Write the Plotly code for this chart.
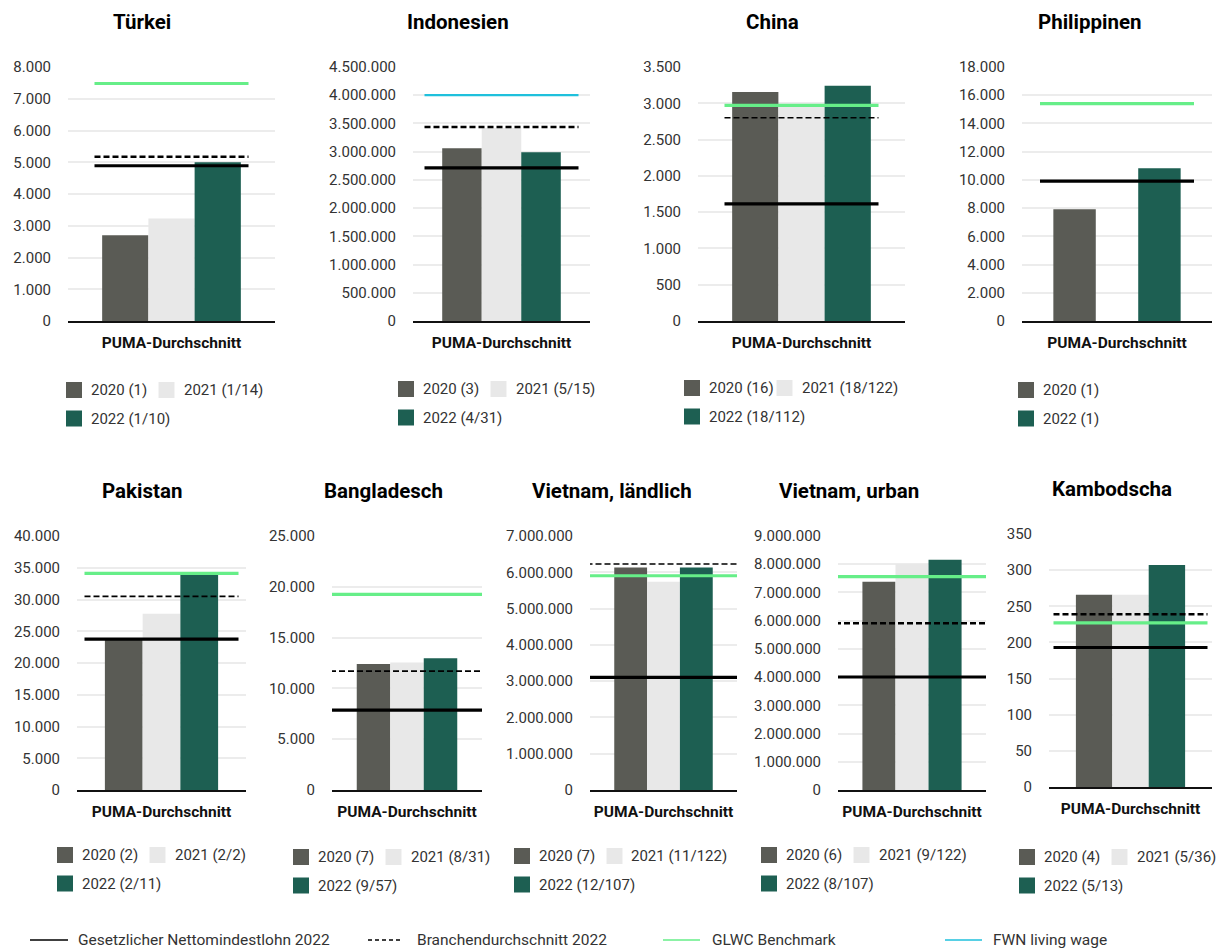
import plotly.graph_objects as go

# ---------------- data ----------------
countries = ["Türkei", "Indonesien", "China", "Philippinen", "Pakistan",
             "Bangladesch", "Vietnam, ländlich", "Vietnam, urban", "Kambodscha"]
category = "PUMA-Durchschnitt"

values_2020 = [2700, 3060000, 3155, 7920, 23700, 12400, 6130000, 7380000, 266]
values_2021 = [3230, 3420000, 2960, None, 27750, 12550, 5740000, 8010000, 266]
values_2022 = [5000, 2990000, 3240, 10830, 34300, 12970, 6130000, 8160000, 307]

min_wage_2022 = [4890, 2714000, 1615, 9910, 23750, 7870, 3106000, 4004000, 193]
industry_avg_2022 = [5170, 3436000, 2800, None, 30500, 11700, 6230000, 5910000, 239]
glwc_benchmark = [7480, None, 2970, 15400, 34100, 19250, 5905000, 7557000, 227]
fwn_living_wage = [None, 4000000, None, None, None, None, None, None, None]

labels_2020 = ["2020 (1)", "2020 (3)", "2020 (16)", "2020 (1)", "2020 (2)",
               "2020 (7)", "2020 (7)", "2020 (6)", "2020 (4)"]
labels_2021 = ["2021 (1/14)", "2021 (5/15)", "2021 (18/122)", None, "2021 (2/2)",
               "2021 (8/31)", "2021 (11/122)", "2021 (9/122)", "2021 (5/36)"]
labels_2022 = ["2022 (1/10)", "2022 (4/31)", "2022 (18/112)", "2022 (1)", "2022 (2/11)",
               "2022 (9/57)", "2022 (12/107)", "2022 (8/107)", "2022 (5/13)"]

axis_max = [8000, 4500000, 3500, 18000, 40000, 25000, 7000000, 9000000, 350]
axis_step = [1000, 500000, 500, 2000, 5000, 5000, 1000000, 1000000, 50]

line_labels = ["Gesetzlicher Nettomindestlohn 2022", "Branchendurchschnitt 2022",
               "GLWC Benchmark", "FWN living wage"]

# ---------------- layout / style ----------------
W, H = 1217, 949
FONT = "Roboto"
C2020, C2021, C2022 = "#5a5b55", "#e8e8e8", "#1d5f52"
CGREEN, CCYAN, CBLACK = "#66ee88", "#1fc0dc", "#000000"
TEXT = "#333333"

panel_px = [(68, 275, 67, 321), (413, 590, 67, 321), (698, 905, 67, 321), (1022, 1212, 67, 321),
            (77, 246, 536, 790), (332, 482, 536, 790), (590, 737, 536, 790), (838, 986, 536, 790),
            (1049, 1212, 534, 787)]
title_px = [(142, 21.5), (458, 21.5), (773, 21.5), (1090, 21.5),
            (142, 490.5), (383, 490.5), (612, 490.5), (849, 490.5), (1112, 488.5)]
legend_px = [(66, 390), (398, 389), (684, 388), (1018, 390),
             (57, 855), (293, 857), (514, 856), (761, 855), (1019, 857)]
dash_width = [2.5, 2.5, 1.6, 2.5, 1.6, 1.6, 1.6, 2.5, 2.5]
LINE_HALF_PX = 77


def fx(px):
    return px / W


def fy(py):
    return 1 - py / H


fig = go.Figure()
shapes = []
annotations = []

for i, name in enumerate(countries):
    n = i + 1
    xa = "x" if n == 1 else f"x{n}"
    ya = "y" if n == 1 else f"y{n}"
    x0p, x1p, y0p, y1p = panel_px[i]

    for vals, col, grp in ((values_2020, C2020, "a"), (values_2021, C2021, "b"),
                           (values_2022, C2022, "c")):
        fig.add_trace(go.Bar(x=[0], y=[vals[i]], marker=dict(color=col, line=dict(width=0)),
                             xaxis=xa, yaxis=ya, showlegend=False, offsetgroup=grp,
                             hoverinfo="y"))

    h = LINE_HALF_PX / (x1p - x0p)
    for vals, col, wid, dash in ((glwc_benchmark, CGREEN, 3.2, "solid"),
                                 (fwn_living_wage, CCYAN, 2.2, "solid"),
                                 (industry_avg_2022, CBLACK, dash_width[i], "6px,3px"),
                                 (min_wage_2022, CBLACK, 3.2, "solid")):
        if vals[i] is None:
            continue
        fig.add_trace(go.Scatter(x=[-h, h], y=[vals[i], vals[i]], mode="lines",
                                 line=dict(color=col, width=wid, dash=dash),
                                 xaxis=xa, yaxis=ya, showlegend=False, hoverinfo="y"))

    xkey = "xaxis" if n == 1 else f"xaxis{n}"
    ykey = "yaxis" if n == 1 else f"yaxis{n}"
    fig.update_layout({
        xkey: dict(domain=[fx(x0p), fx(x1p)], anchor=ya, range=[-0.5, 0.5],
                   tickvals=[0], ticktext=[category], showgrid=False, zeroline=False,
                   showline=True, linecolor="#111111", linewidth=2,
                   ticks="outside", ticklen=6, tickcolor="rgba(0,0,0,0)",
                   tickfont=dict(family=FONT, size=15.5, color="#111111", weight=700),
                   fixedrange=True),
        ykey: dict(domain=[fy(y1p), fy(y0p)], anchor=xa, range=[0, axis_max[i]],
                   dtick=axis_step[i], tick0=0, tickformat=",d", showgrid=True,
                   gridcolor="#ececec", gridwidth=2, zeroline=False, showline=False,
                   ticks="outside", ticklen=13, tickcolor="rgba(0,0,0,0)",
                   tickfont=dict(family=FONT, size=15, color=TEXT), fixedrange=True),
    })

    tx, ty = title_px[i]
    annotations.append(dict(text=name, x=fx(tx), y=fy(ty), xref="paper", yref="paper",
                            xanchor="center", yanchor="middle", showarrow=False,
                            font=dict(family=FONT, size=20.5, color="#000000", weight=700)))

    lx, ly = legend_px[i]
    entries = [(labels_2020[i], C2020, lx, ly), (labels_2021[i], C2021, lx + 92.5, ly),
               (labels_2022[i], C2022, lx, ly + 28.5)]
    for lab, col, sx, sy in entries:
        if lab is None:
            continue
        shapes.append(dict(type="rect", xref="paper", yref="paper",
                           x0=fx(sx), x1=fx(sx + 16), y0=fy(sy + 8), y1=fy(sy - 8),
                           fillcolor=col, line=dict(width=0)))
        annotations.append(dict(text=lab, x=fx(sx + 23), y=fy(sy), xref="paper", yref="paper",
                                xanchor="left", yanchor="middle", showarrow=False,
                                font=dict(family=FONT, size=15, color=TEXT)))

# bottom legend for the reference lines
bottom_items = [(line_labels[0], CBLACK, "solid", 30, 68, 76),
                (line_labels[1], CBLACK, "4px,3px", 368, 402, 415),
                (line_labels[2], CGREEN, "solid", 663, 700, 710),
                (line_labels[3], CCYAN, "solid", 945, 982, 991)]
LEG_Y = 940
for lab, col, dash, lx0, lx1, tx in bottom_items:
    shapes.append(dict(type="line", xref="paper", yref="paper", x0=fx(lx0), x1=fx(lx1),
                       y0=fy(LEG_Y), y1=fy(LEG_Y), line=dict(color=col, width=1.6, dash=dash)))
    annotations.append(dict(text=lab, x=fx(tx), y=fy(LEG_Y), xref="paper", yref="paper",
                            xanchor="left", yanchor="middle", showarrow=False,
                            font=dict(family=FONT, size=15.5, color=TEXT)))

fig.update_layout(
    width=W, height=H, margin=dict(l=0, r=0, t=0, b=0, autoexpand=False),
    paper_bgcolor="white", plot_bgcolor="white",
    barmode="group", bargap=0.33, bargroupgap=0,
    separators=",.", showlegend=False,
    shapes=shapes, annotations=annotations,
    font=dict(family=FONT, color=TEXT),
)

fig.write_html("out.html", config={"displayModeBar": False},
               post_script="document.body.style.margin='0';document.body.style.overflow='hidden';")
